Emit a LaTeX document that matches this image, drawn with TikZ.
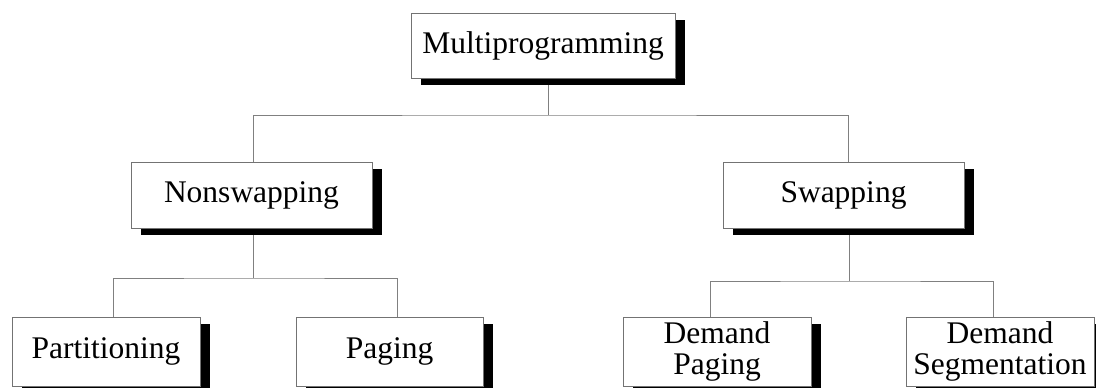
\documentclass[tikz,border=0pt]{standalone}
\usepackage{fontspec}
\setmainfont{Liberation Serif}
\usetikzlibrary{calc,shadows,backgrounds}
\begin{document}
\begin{tikzpicture}[x=1pt,y=1pt,
  box/.style={draw=black!55, line width=0.8pt, fill=white, inner sep=0pt,
    minimum height=66pt, align=center,
    font=\fontsize{31.5}{31}\selectfont,
    drop shadow={shadow xshift=10pt, shadow yshift=-7pt, fill=black, opacity=1}},
  link/.style={draw=black!50, line width=0.9pt}]
\useasboundingbox (0,0) rectangle (1096,388);
\clip (0,0) rectangle (1096,388);

% boxes
\node[box, minimum width=264pt, minimum height=65pt] (multi) at (543,342.5) {Multiprogramming};
\node[box, minimum width=241pt] (nonswap) at (251.5,193) {Nonswapping};
\node[box, minimum width=241pt] (swap) at (843.5,193) {Swapping};
\node[box, minimum width=188pt, minimum height=69pt] (part) at (106,36.5) {Partitioning};
\node[box, minimum width=187pt, minimum height=69pt] (paging) at (389.5,36.5) {Paging};
\node[box, minimum width=188pt, minimum height=69pt] (dpage) at (717,36.5) {Demand\\Paging};
\node[box, minimum width=188pt, minimum height=69pt] (dseg) at (1000,36.5) {Demand\\Segmentation};

% junctions of the tree
\coordinate (j0) at (548,273);
\coordinate (j1) at (253,110);
\coordinate (j2) at (849,107);

\begin{scope}[on background layer]
  \draw[link] (multi.south -| j0) -- (j0);
  \draw[link] ($(nonswap.north)+(1.5,0)$) |- (j0) -| ($(swap.north)+(4.5,0)$);
  \draw[link] (nonswap.south -| j1) -- (j1);
  \draw[link] ($(part.north)+(7,0)$) |- (j1) -| ($(paging.north)+(7.5,0)$);
  \draw[link] (swap.south -| j2) -- (j2);
  \draw[link] ($(dpage.north)+(-7,0)$) |- (j2) -| ($(dseg.north)+(-7,0)$);
\end{scope}
\end{tikzpicture}
\end{document}
